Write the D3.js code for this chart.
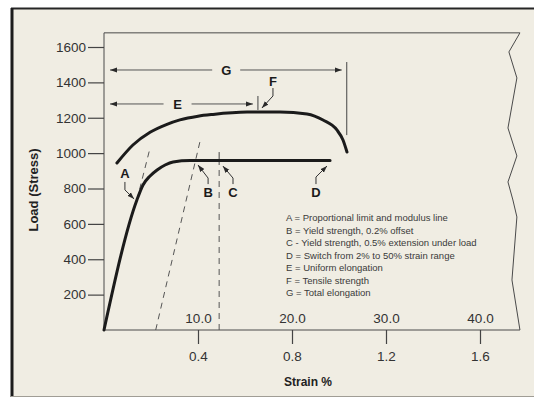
<!DOCTYPE html>
<html>
<head>
<meta charset="utf-8">
<script src="https://cdn.jsdelivr.net/npm/d3@7"></script>
<style>
  body { margin: 0; background: #fff; }
  svg { display: block; font-family: "Liberation Sans", Arial, Helvetica, sans-serif; }
</style>
</head>
<body>
<div id="chart"></div>
<script>
// tick values
const stressTicks = [200, 400, 600, 800, 1000, 1200, 1400, 1600]
const strainTicks = [0.4, 0.8, 1.2, 1.6]
const elongationTicks = [10, 20, 30, 40]

// curves, as [strain %, load]
const upperCurve = [
  [0.055, 944], [0.123, 1046], [0.196, 1118], [0.268, 1163], [0.323, 1188],
  [0.4, 1209], [0.464, 1219], [0.609, 1232], [0.749, 1233], [0.864, 1221],
  [0.932, 1187], [0.991, 1131], [1.017, 1074], [1.034, 1006]
]
const lowerCurve = [
  [0, 0], [0.14, 735], [0.166, 820], [0.196, 871], [0.226, 905],
  [0.26, 933], [0.294, 950], [0.366, 958], [0.962, 958]
]
const modulusExtension = [[0.14, 735], [0.196, 1029]]
const offsetLine = [[0.22, 0], [0.409, 1069]]
const extensionLine = [[0.49, 0], [0.49, 958]]
const extensionTop = [[0.49, 958], [0.49, 1006]]
const tensileTick = [[0.655, 1244], [0.655, 1323]]
const fractureTick = [[1.033, 1102], [1.033, 1515]]

// broken right edge of the plot
const plotTop = 1680
const breakLine = [
  [1.77, 1680], [1.723, 1572], [1.757, 1425], [1.719, 1142], [1.757, 984],
  [1.719, 837], [1.74, 735], [1.757, 639], [1.736, 283], [1.77, 0]
]

// lettered call-outs: label spot and arrow path
const callouts = [
  { key: 'A', at: [0.089, 888], path: [[0.089, 837], [0.089, 792], [0.128, 741]] },
  { key: 'B', at: [0.443, 780], path: [[0.443, 825], [0.443, 859], [0.4, 933]] },
  { key: 'C', at: [0.549, 780], path: [[0.549, 825], [0.549, 859], [0.506, 927]] },
  { key: 'D', at: [0.902, 780], path: [[0.902, 825], [0.902, 865], [0.949, 927]] },
  { key: 'F', at: [0.719, 1408], path: [[0.719, 1368], [0.719, 1323], [0.672, 1255]] }
]

// elongation spans with arrows both ends
const spans = [
  { key: 'E', from: 0, to: 0.655, load: 1278, labelAt: 0.313 },
  { key: 'G', from: 0, to: 1.033, load: 1470, labelAt: 0.52 }
]

const legendItems = [
  'A = Proportional limit and modulus line',
  'B = Yield strength, 0.2% offset',
  'C - Yield strength, 0.5% extension under load',
  'D = Switch from 2% to 50% strain range',
  'E = Uniform elongation',
  'F = Tensile strength',
  'G = Total elongation'
]

const width = 534
const height = 398

const svg = d3.select('#chart').append('svg')
  .attr('width', width)
  .attr('height', height)

// arrow heads
const defs = svg.append('defs')
defs.append('marker')
  .attr('id', 'arrow')
  .attr('markerUnits', 'userSpaceOnUse')
  .attr('markerWidth', 8)
  .attr('markerHeight', 6)
  .attr('refX', 7)
  .attr('refY', 3)
  .attr('orient', 'auto')
  .append('path')
  .attr('d', 'M0,0.5 L7,3 L0,5.5 Z')
  .attr('fill', '#2a2a2a')

// cream panel with its border
svg.append('rect')
  .attr('x', 11).attr('y', 8)
  .attr('width', width - 11).attr('height', height - 9)
  .attr('fill', '#f0ede3')
svg.append('line')
  .attr('x1', 11).attr('x2', width).attr('y1', 8.5).attr('y2', 8.5)
  .attr('stroke', '#262626').attr('stroke-width', 2.2)
svg.append('line')
  .attr('x1', 12).attr('x2', 12).attr('y1', 8).attr('y2', 397)
  .attr('stroke', '#1c1c1c').attr('stroke-width', 3)
svg.append('line')
  .attr('x1', 11).attr('x2', width).attr('y1', 396.5).attr('y2', 396.5)
  .attr('stroke', '#a09d95').attr('stroke-width', 1)

const xScale = d3.scaleLinear()
  .domain([0, 1.6])
  .range([104, 480])

// same positions, labelled as elongation
const elongScale = d3.scaleLinear()
  .domain([0, 40])
  .range([104, 480])

const yScale = d3.scaleLinear()
  .domain([0, 1600])
  .range([330, 47])

const line = d3.line()
  .x(d => xScale(d[0]))
  .y(d => yScale(d[1]))

const smooth = d3.line()
  .x(d => xScale(d[0]))
  .y(d => yScale(d[1]))
  .curve(d3.curveMonotoneX)

// plot frame: left axis, top, broken right edge, bottom
svg.append('path')
  .attr('d', line([[0, 0], [0, plotTop]].concat(breakLine).concat([[0, 0]])))
  .attr('fill', 'none')
  .attr('stroke', '#4a4a4a')
  .attr('stroke-width', 1)

// axes
const yAxis = d3.axisLeft(yScale)
  .tickValues(stressTicks)
  .tickSize(16)
  .tickPadding(2)
  .tickFormat(d3.format('d'))
svg.append('g')
  .attr('class', 'axis y-axis')
  .attr('transform', 'translate(' + xScale(0) + ',0)')
  .call(yAxis)

const xAxis = d3.axisBottom(xScale)
  .tickValues(strainTicks)
  .tickSize(14)
  .tickPadding(7)
  .tickFormat(d3.format('.1f'))
svg.append('g')
  .attr('class', 'axis x-axis')
  .attr('transform', 'translate(0,' + yScale(0) + ')')
  .call(xAxis)

const topAxis = d3.axisTop(elongScale)
  .tickValues(elongationTicks)
  .tickSize(0)
  .tickPadding(7)
  .tickFormat(d3.format('.1f'))
svg.append('g')
  .attr('class', 'axis elong-axis')
  .attr('transform', 'translate(0,' + yScale(0) + ')')
  .call(topAxis)

svg.selectAll('.axis .domain').remove()
svg.selectAll('.axis line')
  .attr('stroke', '#444')
  .attr('stroke-width', 1.2)
svg.selectAll('.axis text')
  .attr('font-family', '"Liberation Sans", Arial, sans-serif')
  .attr('font-size', 13.5)
  .attr('fill', '#333')

// axis titles
svg.append('text')
  .text('Load (Stress)')
  .attr('transform', 'translate(38,190) rotate(-90)')
  .attr('text-anchor', 'middle')
  .attr('font-size', 13)
  .attr('font-weight', 'bold')
  .attr('fill', '#222')

svg.append('text')
  .text('Strain %')
  .attr('x', 308)
  .attr('y', 386)
  .attr('text-anchor', 'middle')
  .attr('font-size', 12)
  .attr('font-weight', 'bold')
  .attr('fill', '#222')

// dashed guide lines
const dashed = [modulusExtension, offsetLine, extensionLine]
svg.selectAll('.guide')
  .data(dashed)
  .join('path')
  .attr('class', 'guide')
  .attr('d', line)
  .attr('fill', 'none')
  .attr('stroke', '#555')
  .attr('stroke-width', 1)
  .attr('stroke-dasharray', '6,5')

const ticks = [extensionTop, tensileTick, fractureTick]
svg.selectAll('.marker-tick')
  .data(ticks)
  .join('path')
  .attr('class', 'marker-tick')
  .attr('d', line)
  .attr('fill', 'none')
  .attr('stroke', '#444')
  .attr('stroke-width', 1)

// the two curves
svg.selectAll('.curve')
  .data([upperCurve, lowerCurve])
  .join('path')
  .attr('class', 'curve')
  .attr('d', smooth)
  .attr('fill', 'none')
  .attr('stroke', '#1b1b1b')
  .attr('stroke-width', 3)
  .attr('stroke-linecap', 'round')

// E and G spans
spans.forEach(s => {
  const y = yScale(s.load)
  const cx = xScale(s.labelAt)
  svg.append('line')
    .attr('x1', cx - 14).attr('x2', xScale(s.from) + 6)
    .attr('y1', y).attr('y2', y)
    .attr('stroke', '#555').attr('stroke-width', 1)
    .attr('marker-end', 'url(#arrow)')
  svg.append('line')
    .attr('x1', cx + 14).attr('x2', xScale(s.to) - 5)
    .attr('y1', y).attr('y2', y)
    .attr('stroke', '#555').attr('stroke-width', 1)
    .attr('marker-end', 'url(#arrow)')
  svg.append('text')
    .text(s.key)
    .attr('x', cx)
    .attr('y', y)
    .attr('dy', '0.36em')
    .attr('text-anchor', 'middle')
    .attr('font-size', 13)
    .attr('font-weight', 'bold')
    .attr('fill', '#1b1b1b')
})

// lettered call-outs
svg.selectAll('.callout-arrow')
  .data(callouts)
  .join('path')
  .attr('class', 'callout-arrow')
  .attr('d', d => line(d.path))
  .attr('fill', 'none')
  .attr('stroke', '#333')
  .attr('stroke-width', 1)
  .attr('marker-end', 'url(#arrow)')

svg.selectAll('.callout-label')
  .data(callouts)
  .join('text')
  .attr('class', 'callout-label')
  .text(d => d.key)
  .attr('x', d => xScale(d.at[0]))
  .attr('y', d => yScale(d.at[1]))
  .attr('dy', '0.36em')
  .attr('text-anchor', 'middle')
  .attr('font-size', 13)
  .attr('font-weight', 'bold')
  .attr('fill', '#1b1b1b')

// key
const legend = svg.append('g')
  .attr('transform', 'translate(286,221)')

legend.selectAll('text')
  .data(legendItems)
  .join('text')
  .text(d => d)
  .attr('x', 0)
  .attr('y', (d, i) => i * 12.5)
  .attr('font-size', 9.5)
  .attr('fill', '#3a3a3a')
</script>
</body>
</html>
